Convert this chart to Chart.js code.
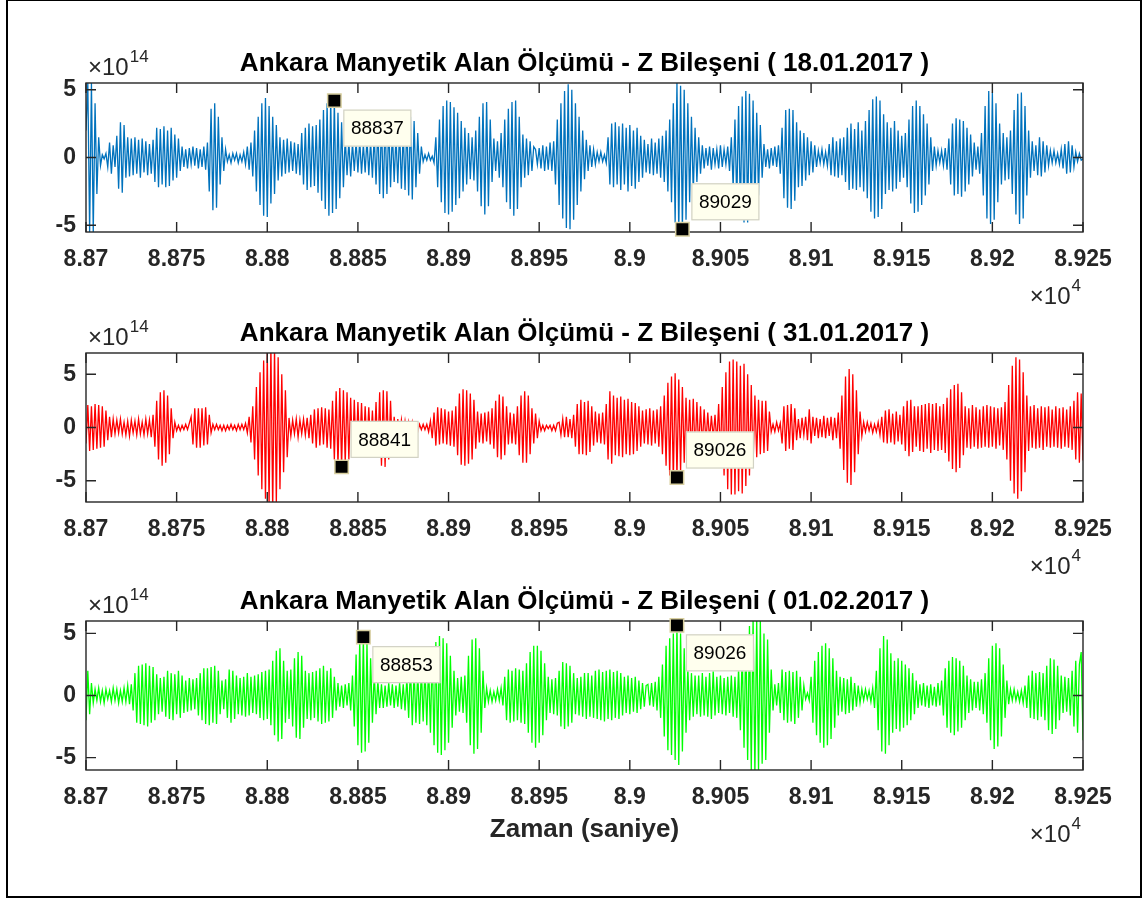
<!DOCTYPE html>
<html><head><meta charset="utf-8">
<script src="https://cdn.jsdelivr.net/npm/chart.js@4.4.1/dist/chart.umd.min.js"></script>
<style>
html,body{margin:0;padding:0;background:#fff;}
body{width:1146px;height:901px;position:relative;overflow:hidden;}
#frame{position:absolute;left:6px;top:0;width:1132px;height:895px;border:2px solid #000;border-top-width:1px;}
canvas{position:absolute;left:0;}
</style></head><body>
<div id="frame"></div>
<canvas id="c1" width="1146" height="330" style="top:0px"></canvas>
<canvas id="c2" width="1146" height="330" style="top:270px"></canvas>
<canvas id="c3" width="1146" height="330" style="top:538px"></canvas>
<script>
// ---- data (Z component, units of 1e13; one sample per second) ----
const startTime = 88700;
const stepSec = 1;
const xTicks = [88700,88750,88800,88850,88900,88950,89000,89050,89100,89150,89200,89250];
const yTicks = [-5,0,5];
const titles = [
  'Ankara Manyetik Alan Ölçümü - Z Bileşeni ( 18.01.2017 )',
  'Ankara Manyetik Alan Ölçümü - Z Bileşeni ( 31.01.2017 )',
  'Ankara Manyetik Alan Ölçümü - Z Bileşeni ( 01.02.2017 )'
];
const xLabel = 'Zaman (saniye)';

const z18Jan = [
20,55,-55,55,-55,40,-27,
15,-6,2,-1,3,
-7,11,-12,9,-7,16,
-23,26,-26,24,-15,
15,-14,14,-13,15,-12,13,-15,14,-11,12,-13,10,-12,13,
-18,22,-22,21,-20,23,-22,20,-21,22,-17,
17,-15,14,-10,8,
-7,6,-8,7,-5,8,-6,7,-8,6,-7,8,-9,11,
-25,36,-39,40,-37,30,-20,
15,-10,6,
-3,2,-4,3,-2,3,-4,2,-3,4,-5,
8,-9,11,-14,
20,-25,30,-35,40,-43,
44,-44,
38,-34,30,-27,24,
-17,15,-14,13,-12,14,-11,12,-10,11,-12,10,-13,
18,-20,22,-24,25,-22,23,-21,24,-26,28,
-32,35,-38,40,-43,42,-41,
42,
-38,33,-30,26,-22,
15,-13,12,-14,11,-10,12,-11,13,-12,10,-11,14,-13,12,-15,17,-20,24,-27,
28,-30,29,-27,25,-22,20,-18,16,-19,21,-23,20,-24,26,-28,30,-31,27,
-22,18,-12,8,
-3,2,-2,3,-2,1,-4,
15,-22,28,
-33,38,-41,42,-42,41,-40,37,-35,33,-30,
27,-25,22,-20,18,-16,15,-17,20,-25,
30,-36,40,-42,41,-36,28,
-18,14,-10,12,-15,18,-22,
28,-33,36,-38,41,-43,42,-38,30,
-22,17,-15,14,-13,12,-10,8,
6,-5,7,-8,9,-10,8,-9,11,-10,12,
-20,28,-35,40,-45,49,-52,54,-53,50,-46,40,-35,
30,-25,20,-16,13,
-10,9,-7,6,-5,4,-3,4,-3,2,-4,
15,-20,25,-22,26,-20,23,
-24,25,-20,22,-25,24,-21,20,-23,22,-18,16,-15,
13,-11,10,-12,14,-13,11,-12,14,-15,16,-18,20,
-25,28,-33,40,-48,55,-55,53,-53,50,-46,40,
-33,30,-26,22,-18,15,-12,
9,-8,7,-6,8,-9,7,-5,6,-8,9,-7,6,-5,8,-10,
15,-22,28,-33,38,-42,45,-48,49,-48,47,-45,42,-38,33,-28,24,
-15,10,-7,6,-8,7,-6,8,-7,9,-12,
22,-30,35,-37,36,-38,35,-32,26,
-22,20,-21,18,-17,15,-13,12,-11,9,-7,
5,-4,6,-5,4,-6,
10,-13,15,-14,12,-15,14,-13,15,
-18,22,-24,25,-23,21,-24,26,-22,20,-25,27,-30,
35,-40,43,-45,45,-44,42,-38,32,
-27,26,-24,22,-25,27,-23,20,-18,16,-15,18,-22,
28,-34,38,-41,42,-40,38,-35,32,-28,25,-20,15,
-10,8,-6,5,-4,5,-6,7,-9,
14,-20,25,-28,29,-27,28,-29,27,-25,22,-20,17,-14,11,
-9,8,-12,18,
-28,38,-45,49,-49,48,-46,40,-33,25,
-20,18,-17,15,-16,20,-27,35,
-42,47,-49,48,-45,38,-28,
20,-15,12,-10,9,
-13,15,-14,12,-11,9,
-6,5,-4,5,-4,3,-5,6,-8,
10,-12,12,-11,9,-7,
4,-3,3,-2,-1
];

const z31Jan = [
-15,21,-22,20,-21,22,-20,21,-19,20,-18,16,
-12,10,-9,8,
-6,7,-5,8,-6,5,-7,6,-8,7,-5,6,-7,8,-6,5,-7,8,-6,7,-9,12,
-18,25,-30,33,-36,35,-33,30,-25,18,-10,
5,-3,2,-3,2,-2,3,-2,4,
10,-16,18,-19,18,-19,18,-17,19,-16,12,
-5,3,-2,3,-2,2,-3,2,-3,2,-2,3,-2,2,-3,3,-2,3,-2,4,-5,
10,-14,20,
-30,38,-45,52,-58,63,-67,70,
-74,76,-78,75,-72,66,-58,
50,-42,35,-28,
9,-8,7,-6,8,-9,7,-6,8,-7,9,-10,12,
-15,17,-19,18,-17,19,-16,18,-19,17,-20,
25,-30,34,-36,37,-37,35,-34,33,-30,28,
-27,26,-25,24,-22,23,-21,20,-18,19,-17,16,-20,24,-28,33,
-36,35,-37,34,-30,25,-22,
10,-9,8,-9,7,-8,6,-7,5,-6,5,-4,3,-4,3,-2,3,-2,3,-4,6,
-10,14,-17,19,-16,18,-15,17,-16,15,-17,16,-18,20,
-26,32,-35,36,-36,35,-34,32,-30,26,-20,
15,-14,13,-15,14,-13,15,-16,18,-20,
25,-28,31,-30,29,-26,20,
-16,14,-15,13,-16,20,
-26,30,-33,34,-33,30,-25,
18,-15,13,-10,6,
-3,2,-3,2,-1,2,-3,2,-3,4,
5,-7,8,-9,10,-9,8,-10,12,
-18,22,-25,26,-25,24,-26,25,-23,20,-17,
15,-14,13,-15,14,-16,22,
-30,34,-34,30,
-26,28,-27,29,-28,26,-25,27,-26,24,-25,23,-22,20,-18,
16,-15,17,-16,18,-17,16,-15,17,-18,20,-25,
30,-36,42,-45,48,-50,51,-47,45,-42,38,-33,
28,-27,26,-28,27,-25,24,-22,20,-18,17,-15,14,-12,11,-10,12,-15,
22,-30,38,-45,52,-58,62,-63,64,-63,62,-60,58,-62,60,-55,50,-45,
40,-35,30,-28,26,-25,25,-24,25,-22,15,
-4,3,-4,5,-3,4,
-15,20,-22,21,-20,22,-21,18,-12,
8,-10,9,-7,10,-12,17,-15,10,-8,9,-10,8,-9,11,-10,9,-8,10,-12,9,-10,14,-20,
30,-40,48,-52,55,-54,50,-42,35,-25,15,
-8,5,-4,5,-3,4,-5,3,-4,5,-7,
10,-14,16,-15,17,-14,13,-16,15,-13,12,
-16,20,-22,25,-27,26,-23,20,-18,
20,-22,21,-23,22,-20,23,-24,22,-21,23,-22,20,-21,22,-24,28,
-32,36,-39,40,-42,41,-38,33,-26,
20,-19,18,-20,21,-18,19,-20,17,-19,20,-18,21,-19,20,-18,19,-20,18,-17,19,-21,24,-30,
40,-50,58,-62,66,-67,64,-60,52,-42,30,
-22,20,-19,21,-20,18,-19,20,-21,19,-18,20,-19,17,-18,20,-19,18,-20,19,-18,17,-19,20,-21,25,
-30,33,-33,32,-31
];

const z01Feb = [
-20,20,-15,10,-6,
5,-4,6,-5,4,-6,5,-3,4,-5,6,-4,5,-6,4,-5,6,-5,
8,-7,9,-12,
18,-22,24,-23,25,-24,26,-25,24,-22,23,-20,17,
-15,14,-13,15,-17,
20,-19,18,-20,17,-15,
20,-18,16,-14,12,-13,14,-12,13,-11,14,-16,18,
-20,22,-23,22,-24,23,-22,24,-23,20,-15,
12,-11,13,
-18,21,-22,20,-19,16,
-15,14,-16,15,-17,18,-16,15,-14,16,-15,17,-18,
19,-20,20,-19,21,-24,28,
-32,36,-37,38,-35,28,
-22,20,-19,21,-25,
30,-34,35,-35,32,-26,
20,-19,18,-20,19,-18,20,-21,22,
-23,24,-22,20,-21,22,-18,15,-12,
10,-9,8,-10,9,-8,10,-12,16,
-25,33,-40,44,-46,47,-45,42,-38,30,
-22,18,-15,12,-10,9,-10,8,-9,10,-8,
9,-10,8,-9,10,-11,9,-12,14,-18,24,
-24,21,-22,20,-23,22,-21,23,-24,26,-30,
36,-40,43,-46,48,-48,46,-44,42,-38,32,-26,20,-16,
14,-13,15,-14,16,-22,
32,-40,45,-47,46,-43,38,-30,20,
-10,6,-5,4,-5,3,-4,5,-4,6,-8,
15,-20,21,-22,20,-21,22,-20,21,-22,20,-23,26,
-30,35,-38,40,-42,40,-38,36,-32,26,-20,
15,-14,13,-15,14,-16,20,-25,
27,-27,26,-25,24,-22,18,
-15,14,-16,15,-17,18,-19,18,-17,16,-18,
20,-19,21,-20,19,-21,20,-19,21,-20,19,-18,20,-19,18,
-16,15,-14,16,-15,14,-13,15,-14,12,-11,
10,-9,8,9,-8,10,-9,11,-12,15,-18,
25,-33,40,-44,46,-48,50,-52,56.5,-56,50,-45,38,-30,
22,-20,18,-17,16,-15,16,-17,18,-16,15,-17,18,-19,20,
-16,15,-14,16,-15,14,-16,15,-14,16,-17,15,-18,22,-28,
35,-42,48,-52,56,-60,62,-63,62,-60,60,-55,50,-52,45,
-30,21,-12,9,-8,10,-14,
21,-20,19,-22,20,-21,19,-23,20,-18,15,-12,8,
-3,2,-4,
15,-22,28,-32,35,-38,40,-42,42,-40,38,-35,30,-26,20,-16,
15,-13,14,-15,13,-14,15,-12,10,-9,8,-6,
5,-4,5,-3,4,-5,6,-10,
20,-28,38,-45,48,-47,45,-40,34,-30,
28,-27,30,-29,28,-26,25,-24,22,-20,18,-15,12,
-10,9,-8,10,-9,8,-10,9,-8,7,-9,10,-8,12,-16,
22,-26,28,-30,31,-32,30,-29,28,-26,24,-20,16,
-14,13,-12,11,-10,11,-12,13,-15,18,-22,
30,-36,40,-43,42,-41,38,-33,25,-18,12,
-7,5,-4,5,-4,3,-5,4,-6,8,-10,
16,-18,20,-19,18,-20,19,-17,18,-20,24,
-28,30,-31,29,-27,24,-20,
16,-14,15,-13,14,-16,20,-25,
28,-30,25,35,-36
];

// data tips (x positions, seconds)
const tips18Jan = [88837, 89029];
const tips31Jan = [88841, 89026];
const tips01Feb = [88853, 89026];
const tipPlace18Jan = ['below','above'];
const tipPlace31Jan = ['above','above'];
const tipPlace01Feb = ['below','below'];

const yLimits = [5.5, 7, 6];
const colors = ['#0072BD', '#FF0000', '#00FF00'];

// ---- drawing ----
const FAM = '"Liberation Sans", Arial, Helvetica, sans-serif';
const AX = '#262626';

function fmtX(v){ return String(parseFloat((v/1e4).toFixed(4))); }

const axesPlugin = {
  id: 'matlabAxes',
  afterDatasetDraw(chart, args){
    if (args.index !== 1) return;
    const {ctx, chartArea:a, scales:{x, y}} = chart;
    ctx.save();
    ctx.strokeStyle = AX; ctx.lineWidth = 1.4;
    ctx.strokeRect(a.left, a.top, a.right - a.left, a.bottom - a.top);
    ctx.beginPath();
    xTicks.forEach(v => {
      const p = x.getPixelForValue(v);
      ctx.moveTo(p, a.bottom); ctx.lineTo(p, a.bottom - 10);
      ctx.moveTo(p, a.top); ctx.lineTo(p, a.top + 10);
    });
    yTicks.forEach(v => {
      const p = y.getPixelForValue(v);
      ctx.moveTo(a.left, p); ctx.lineTo(a.left + 10, p);
      ctx.moveTo(a.right, p); ctx.lineTo(a.right - 10, p);
    });
    ctx.stroke();
    ctx.restore();
  },
  afterDraw(chart){
    const {ctx, chartArea:a} = chart;
    const o = chart.options.plugins.matlabAxes;
    ctx.save();
    ctx.fillStyle = AX; ctx.textBaseline = 'alphabetic'; ctx.textAlign = 'left';
    // y exponent
    ctx.font = '24px ' + FAM;
    ctx.fillText('\u00D710', a.left + 2, a.top - 8);
    const w10 = ctx.measureText('\u00D710').width;
    ctx.font = '17px ' + FAM;
    ctx.fillText('14', a.left + 3 + w10, a.top - 21);
    // x exponent
    const w4 = ctx.measureText('4').width;
    ctx.fillText('4', a.right - 2 - w4, a.bottom + 59);
    ctx.font = '24px ' + FAM; ctx.textAlign = 'right';
    ctx.fillText('\u00D710', a.right - 3 - w4, a.bottom + 72);
    // data tip boxes
    const meta = chart.getDatasetMeta(0);
    meta.data.forEach((pt, i) => {
      const bx = pt.x + 9;
      const by = o.place[i] === 'below' ? pt.y + 9 : pt.y - 46;
      const bw = 68, bh = 37;
      ctx.fillStyle = 'rgb(255,255,238)';
      ctx.fillRect(bx, by, bw, bh);
      ctx.strokeStyle = '#D2D2C4'; ctx.lineWidth = 1.2;
      ctx.strokeRect(bx + 0.5, by + 0.5, bw - 1, bh - 1);
      ctx.fillStyle = '#000'; ctx.font = '19px ' + FAM;
      ctx.textAlign = 'center'; ctx.textBaseline = 'middle';
      ctx.fillText(String(chart.data.datasets[0].data[i].x), bx + bw/2, by + bh/2 + 1);
    });
    ctx.restore();
  }
};

function makeChart(id, values, color, ylim, titleText, tipTimes, place, showXLabel){
  const pts = values.map((v, i) => ({x: startTime + i*stepSec, y: v/10}));
  const tipPts = tipTimes.map(t => ({x: t, y: values[(t - startTime)/stepSec]/10}));
  return new Chart(document.getElementById(id), {
    type: 'line',
    data: { datasets: [
      { data: tipPts, showLine: false, pointStyle: 'rect', pointRadius: 9.5,
        pointBackgroundColor: '#000', pointBorderColor: '#D8CFA0', pointBorderWidth: 1.5, clip: false },
      { data: pts, borderColor: color, borderWidth: 1.3, pointRadius: 0, fill: false, tension: 0 }
    ]},
    options: {
      responsive: false, animation: false, events: [],
      layout: { padding: { left: 16, right: 63, top: 0, bottom: 18 } },
      plugins: {
        legend: { display: false }, tooltip: { enabled: false },
        title: { display: true, text: titleText, fullSize: false, color: '#000',
          font: { family: FAM, size: 26, weight: 'bold', lineHeight: 1.2 },
          padding: { top: 48.4, bottom: 3.4 } },
        matlabAxes: { place: place }
      },
      scales: {
        x: { type: 'linear', min: xTicks[0], max: xTicks[xTicks.length-1],
          afterBuildTicks: s => { s.ticks = xTicks.map(v => ({value: v})); },
          afterFit: s => { s.height = 80; s.paddingLeft = 0; s.paddingRight = 0; },
          grid: { display: false, drawTicks: false }, border: { display: false },
          ticks: { padding: 14, color: AX, autoSkip: false, maxRotation: 0,
            font: { family: FAM, size: 23, weight: 'bold', lineHeight: 1.2 }, callback: v => fmtX(v) },
          title: { display: showXLabel, text: xLabel, color: AX,
            font: { family: FAM, size: 26, weight: 'bold', lineHeight: 1.2 }, padding: { top: 0, bottom: 5 } } },
        y: { type: 'linear', min: -ylim, max: ylim,
          afterBuildTicks: s => { s.ticks = yTicks.map(v => ({value: v})); },
          afterFit: s => { s.width = 70; },
          grid: { display: false, drawTicks: false }, border: { display: false },
          ticks: { padding: 10, color: AX,
            font: { family: FAM, size: 23, weight: 'bold', lineHeight: 1.2 }, callback: v => String(v) } }
      }
    },
    plugins: [axesPlugin]
  });
}

makeChart('c1', z18Jan, colors[0], yLimits[0], titles[0], tips18Jan, tipPlace18Jan, false);
makeChart('c2', z31Jan, colors[1], yLimits[1], titles[1], tips31Jan, tipPlace31Jan, false);
makeChart('c3', z01Feb, colors[2], yLimits[2], titles[2], tips01Feb, tipPlace01Feb, true);
</script>
</body></html>
